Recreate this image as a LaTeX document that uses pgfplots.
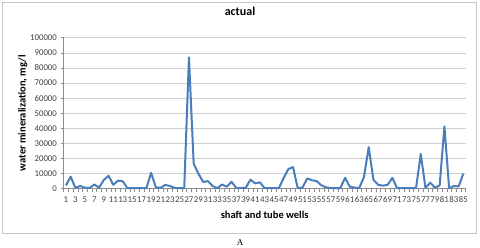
\documentclass[border=0pt]{standalone}
\usepackage{fontspec}
\setmainfont{Carlito}
\newfontfamily\seriffont{Liberation Serif}
\usepackage{pgfplots}
\pgfplotsset{compat=1.18}
\definecolor{xlblue}{HTML}{4A7EBB}
\definecolor{gridgray}{HTML}{D0D0D0}
\definecolor{axisgray}{HTML}{8C8C8C}
\definecolor{ticktext}{HTML}{404040}
\begin{document}
\begin{tikzpicture}[x=1pt,y=1pt]
\useasboundingbox (0,0) rectangle (480,247);
\draw[gray!45, line width=0.6pt] (2,245) rectangle (476,14);
\begin{axis}[
  at={(63.6pt,58.3pt)}, anchor=south west,
  scale only axis, width=402.1pt, height=151pt,
  xmin=0.5, xmax=85.5, ymin=0, ymax=100000,
  axis x line*=bottom, axis y line*=left,
  axis line style={axisgray, line width=0.6pt},
  xtick={1,3,5,7,9,11,13,15,17,19,21,23,25,27,29,31,33,35,37,39,41,43,45,47,49,51,53,55,57,59,61,63,65,67,69,71,73,75,77,79,81,83,85},
  xticklabels={1,3,5,7,9,11,13,15,17,19,21,23,25,27,29,31,33,35,37,39,41,43,45,47,49,51,53,55,57,59,61,63,65,67,69,71,73,75,77,79,81,83,85},
  minor xtick={0.5,1.5,...,85.5},
  major x tick style={draw=none},
  minor x tick style={axisgray, line width=0.5pt},
  minor tick length=3pt,
  ytick={0,10000,20000,30000,40000,50000,60000,70000,80000,90000,100000},
  yticklabels={0,10000,20000,30000,40000,50000,60000,70000,80000,90000,100000},
  y tick style={axisgray, line width=0.5pt},
  major tick length=3pt,
  tick align=outside,
  ymajorgrids, grid style={gridgray, line width=0.6pt},
  scaled y ticks=false,
  tick label style={font=\fontsize{8.8}{10}\selectfont, text=ticktext},
  xticklabel style={inner sep=0pt, yshift=-4.5pt},
  yticklabel style={inner sep=0pt, xshift=-3.5pt},
  title={actual},
  title style={font=\fontsize{12}{14}\selectfont\bfseries, at={(axis description cs:0.4387,1.134)}, anchor=center},
  xlabel={shaft and tube wells},
  xlabel style={font=\fontsize{10.5}{12}\selectfont\bfseries, at={(axis description cs:0.5,-0.1742)}, anchor=center},
  ylabel={water mineralization, mg/l},
  ylabel style={font=\fontsize{10.5}{12}\selectfont\bfseries, at={(axis description cs:-0.1017,0.5)}, anchor=center},
  clip=false,
]
\addplot[xlblue, line width=2pt, line join=round] coordinates {
(1,2200) (2,8000) (3,500) (4,1800) (5,700) (6,500) (7,2800) (8,700) (9,5800) (10,8600)
(11,2600) (12,5300) (13,5000) (14,300) (15,300) (16,300) (17,300) (18,300) (19,10500) (20,900)
(21,600) (22,2500) (23,1800) (24,500) (25,400) (26,400) (27,87000) (28,16500) (29,10000) (30,4500)
(31,5000) (32,1800) (33,300) (34,2800) (35,1300) (36,4600) (37,500) (38,500) (39,600) (40,6000)
(41,3500) (42,4200) (43,300) (44,300) (45,300) (46,300) (47,7000) (48,13000) (49,14300) (50,300)
(51,700) (52,6800) (53,5600) (54,5000) (55,2200) (56,900) (57,400) (58,400) (59,400) (60,7200)
(61,1300) (62,700) (63,500) (64,7800) (65,27500) (66,5800) (67,2600) (68,2000) (69,2600) (70,7200)
(71,300) (72,300) (73,300) (74,300) (75,300) (76,23000) (77,500) (78,4000) (79,700) (80,2200)
(81,41300) (82,300) (83,1800) (84,1500) (85,10000)
};
\end{axis}
\node[inner sep=0pt, anchor=center, font=\seriffont\fontsize{9}{10}\selectfont] at (240,4.3) {A};
\end{tikzpicture}
\end{document}
